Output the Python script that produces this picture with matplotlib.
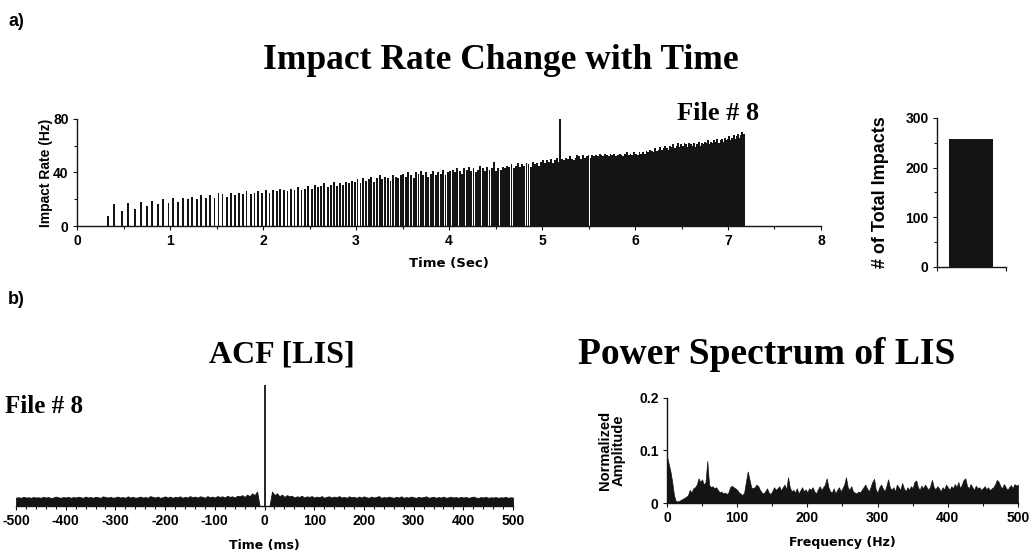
import numpy as np
import matplotlib
matplotlib.use("Agg")
import matplotlib.pyplot as plt
from matplotlib.ticker import MultipleLocator

plt.rcParams['font.family'] = ['Liberation Sans', 'DejaVu Sans']
plt.rcParams['axes.unicode_minus'] = False

# impact rate (Hz) of each impact, read left to right
rate_hz = [
    7.5, 16.5, 11, 17.5, 13, 18, 15, 19, 16.5,
    20, 17.5, 21, 18, 21, 20, 22, 20, 23.5, 21, 23.5, 21, 24.5,
    24, 22, 25, 23, 25, 24, 26, 24, 25, 26,
    25, 27, 25, 27, 26, 28, 27, 26, 28, 27, 29, 27, 28,
    30, 28, 31, 29, 30, 32, 29, 31, 33, 30, 32, 31, 33, 32, 34,
    33, 35, 32, 36, 34, 35, 37, 33, 36, 38, 35, 37, 36, 34, 38, 37, 36, 38,
    39, 37, 40, 38, 36, 40, 39, 41, 38, 40, 37, 39, 41, 38, 40, 39, 42, 38, 40, 41,
    42, 40, 43, 41, 39, 43, 42, 44, 41, 43, 40, 42, 45, 43, 41, 44, 42, 43, 48, 41, 43,
    42, 44, 43, 45, 44, 46, 43, 45, 47, 44, 46, 45, 47, 46, 44, 48, 46, 47, 45, 48, 49, 47, 49,
    48, 50, 47, 49, 51, 48, 81, 50, 49, 51, 50, 52, 50, 49, 51, 53, 52, 50, 53, 51, 52, 53, 51, 53, 52,
    53, 52, 54, 53, 52, 54, 53, 52, 54, 53, 54, 52, 53, 54, 53, 52, 54, 55, 53, 54, 53, 55, 54, 53, 55, 54, 55,
    54, 56, 55, 57, 56, 55, 58, 56, 57, 59, 57, 58, 60, 58, 57, 60, 59, 61, 58, 60, 62, 59, 61, 60, 62, 61, 59, 62, 61,
    60, 62, 59, 61, 63, 60, 62, 61, 63, 62, 64, 61, 63, 62, 64, 63, 65, 62, 64, 65, 63, 66, 64, 65, 67,
    64, 66, 68, 65, 67, 69, 66, 68, 70, 69,
]
t_first = 0.33   # first impact (s)
t_last = 7.17    # last impact (s)
total_impacts = 258

# ACF of LIS, positive lags 5..500 ms (symmetric), zero lag = 1
acf_lag_ms = np.arange(5, 505, 5)
acf_pos = [
    0.0, 0.0, 0.12, 0.09, 0.105, 0.08, 0.095, 0.075, 0.09, 0.08,
    0.085, 0.07, 0.08, 0.075, 0.085, 0.07, 0.08, 0.075, 0.082, 0.07,
    0.078, 0.072, 0.082, 0.068, 0.076, 0.08, 0.07, 0.078, 0.072, 0.082,
    0.07, 0.076, 0.068, 0.08, 0.072, 0.076, 0.068, 0.078, 0.07, 0.08,
    0.072, 0.068, 0.078, 0.07, 0.075, 0.082, 0.068, 0.074, 0.07, 0.078,
    0.072, 0.068, 0.076, 0.07, 0.08, 0.068, 0.074, 0.07, 0.078, 0.072,
    0.068, 0.076, 0.07, 0.074, 0.08, 0.068, 0.072, 0.076, 0.068, 0.074,
    0.07, 0.078, 0.068, 0.072, 0.076, 0.07, 0.074, 0.068, 0.076, 0.07,
    0.074, 0.068, 0.072, 0.078, 0.07, 0.066, 0.074, 0.07, 0.076, 0.068,
    0.072, 0.07, 0.074, 0.068, 0.072, 0.07, 0.076, 0.068, 0.072, 0.07,
]

# power spectrum of LIS, 0..500 Hz every 2.5 Hz
ps_freq = np.arange(0, 502.5, 2.5)
ps_amp = [
    0.089, 0.075, 0.060, 0.040, 0.015, 0.004, 0.003, 0.004, 0.006, 0.008,
    0.010, 0.012, 0.015, 0.025, 0.020, 0.028, 0.030, 0.035, 0.047, 0.040,
    0.045, 0.035, 0.040, 0.080, 0.035, 0.030, 0.032, 0.028, 0.030, 0.025,
    0.020, 0.022, 0.018, 0.020, 0.017, 0.020, 0.030, 0.033, 0.030, 0.028,
    0.025, 0.020, 0.018, 0.015, 0.020, 0.040, 0.060, 0.045, 0.030, 0.028,
    0.030, 0.035, 0.032, 0.025, 0.020, 0.018, 0.022, 0.028, 0.020, 0.017,
    0.022, 0.030, 0.025, 0.028, 0.032, 0.024, 0.030, 0.035, 0.026, 0.049,
    0.030, 0.022, 0.025, 0.020, 0.028, 0.018, 0.024, 0.030, 0.022, 0.026,
    0.020, 0.028, 0.025, 0.030, 0.022, 0.018, 0.026, 0.032, 0.025, 0.030,
    0.035, 0.047, 0.030, 0.022, 0.020, 0.028, 0.018, 0.025, 0.030, 0.022,
    0.028, 0.035, 0.049, 0.030, 0.025, 0.032, 0.022, 0.020, 0.018, 0.022,
    0.020, 0.025, 0.030, 0.035, 0.028, 0.022, 0.030, 0.040, 0.046, 0.025,
    0.020, 0.030, 0.035, 0.028, 0.022, 0.032, 0.045, 0.030, 0.025, 0.030,
    0.022, 0.035, 0.030, 0.025, 0.038, 0.028, 0.022, 0.030, 0.025, 0.032,
    0.028, 0.040, 0.043, 0.030, 0.025, 0.033, 0.028, 0.035, 0.030, 0.025,
    0.032, 0.044, 0.030, 0.026, 0.032, 0.028, 0.022, 0.030, 0.026, 0.035,
    0.030, 0.025, 0.032, 0.028, 0.036, 0.030, 0.040, 0.028, 0.035, 0.044,
    0.047, 0.032, 0.028, 0.036, 0.030, 0.025, 0.033, 0.028, 0.030, 0.025,
    0.028, 0.032, 0.026, 0.030, 0.024, 0.028, 0.030, 0.036, 0.044, 0.040,
    0.032, 0.028, 0.036, 0.030, 0.025, 0.030, 0.034, 0.028, 0.036, 0.033,
    0.035,
]

# impact times from the intervals between impacts
rate = np.array(rate_hz, dtype=float)
t = np.concatenate([[0.0], np.cumsum(1.0 / rate[1:])])
t = t_first + t / t[-1] * (t_last - t_first)

ink = '#141414'
serif = ['Liberation Serif', 'DejaVu Serif']
wide = ['DejaVu Sans']

fig = plt.figure(figsize=(10.34, 5.56), dpi=100)


def style(ax):
    for s in ['top', 'right']:
        ax.spines[s].set_visible(False)
    for s in ['left', 'bottom']:
        ax.spines[s].set_linewidth(1.0)
        ax.spines[s].set_color(ink)
    ax.tick_params(which='both', direction='out', color=ink, width=0.8)
    ax.tick_params(which='major', length=3, pad=3)
    ax.tick_params(which='minor', length=2)
    for lab in ax.get_xticklabels() + ax.get_yticklabels():
        lab.set_fontsize(10)
        lab.set_fontweight('bold')


# a) impact rate
ax1 = fig.add_axes([0.0745, 0.5935, 0.7195, 0.1925])
ax1.bar(t, rate, width=0.02, color=ink, linewidth=0)
ax1.set_xlim(0, 8)
ax1.set_ylim(0, 80)
ax1.set_xticks(range(0, 9))
ax1.set_yticks([0, 40, 80])
ax1.xaxis.set_minor_locator(MultipleLocator(0.5))
ax1.yaxis.set_minor_locator(MultipleLocator(20))
style(ax1)
ax1.set_xlabel('Time (Sec)', fontsize=9.5, fontweight='bold', family=wide, labelpad=6)
ax1.set_ylabel('Impact Rate (Hz)', fontsize=10, fontweight='bold', labelpad=0)
ax1.text(0.917, 1.05, 'File # 8', transform=ax1.transAxes, ha='right', va='center',
         fontsize=19, fontweight='bold', family=serif)

# total impacts bar
ax2 = fig.add_axes([0.906, 0.5198, 0.067, 0.268])
ax2.bar([0.493], [total_impacts], width=0.638, color=ink, linewidth=0)
ax2.set_xlim(0, 1)
ax2.set_ylim(0, 300)
ax2.set_xticks([0, 1])
ax2.set_xticklabels([])
ax2.set_yticks([0, 100, 200, 300])
ax2.yaxis.set_minor_locator(MultipleLocator(50))
style(ax2)
ax2.set_ylabel('# of Total Impacts', fontsize=13, fontweight='bold', labelpad=12)

# b) ACF
lags = np.concatenate([-acf_lag_ms[::-1], [0], acf_lag_ms])
acf_vals = np.concatenate([np.array(acf_pos)[::-1], [0.0], acf_pos])
ax3 = fig.add_axes([0.0155, 0.0899, 0.4807, 0.2176])
ax3.fill_between(lags, 0, acf_vals, color=ink, linewidth=0.6, edgecolor=ink)
ax3.vlines([0], 0, 1.0, color=ink, linewidth=1.3)
ax3.set_xlim(-500, 500)
ax3.set_ylim(0, 1)
ax3.set_xticks(range(-500, 600, 100))
ax3.xaxis.set_minor_locator(MultipleLocator(20))
ax3.set_yticks([])
style(ax3)
ax3.spines['left'].set_visible(False)
ax3.set_xlabel('Time (ms)', fontsize=9, fontweight='bold', family=wide, labelpad=8)
ax3.text(-0.022, 0.82, 'File # 8', transform=ax3.transAxes, ha='left', va='center',
         fontsize=18, fontweight='bold', family=serif)

# power spectrum
ax4 = fig.add_axes([0.645, 0.0953, 0.3395, 0.1889])
ax4.fill_between(ps_freq, 0, ps_amp, color=ink, linewidth=0.5, edgecolor=ink)
ax4.set_xlim(0, 500)
ax4.set_ylim(0, 0.2)
ax4.set_xticks(range(0, 600, 100))
ax4.set_yticks([0, 0.1, 0.2])
ax4.set_yticklabels(['0', '0.1', '0.2'])
ax4.xaxis.set_minor_locator(MultipleLocator(50))
style(ax4)
ax4.set_xlabel('Frequency (Hz)', fontsize=9, fontweight='bold', family=wide, labelpad=8)
ax4.set_ylabel('Normalized\nAmplitude', fontsize=10.5, fontweight='bold', labelpad=10,
               linespacing=0.95)

# headings
fig.text(0.008, 0.962, 'a)', fontsize=13, fontweight='bold', va='center')
fig.text(0.008, 0.462, 'b)', fontsize=13, fontweight='bold', va='center')
fig.text(0.484, 0.892, 'Impact Rate Change with Time', ha='center', va='center',
         fontsize=25.5, fontweight='bold', family=serif)
fig.text(0.273, 0.362, 'ACF [LIS]', ha='center', va='center',
         fontsize=23, fontweight='bold', family=serif)
fig.text(0.559, 0.362, 'Power Spectrum of LIS', ha='left', va='center',
         fontsize=27, fontweight='bold', family=serif)

fig.savefig('out.png', dpi=100)
